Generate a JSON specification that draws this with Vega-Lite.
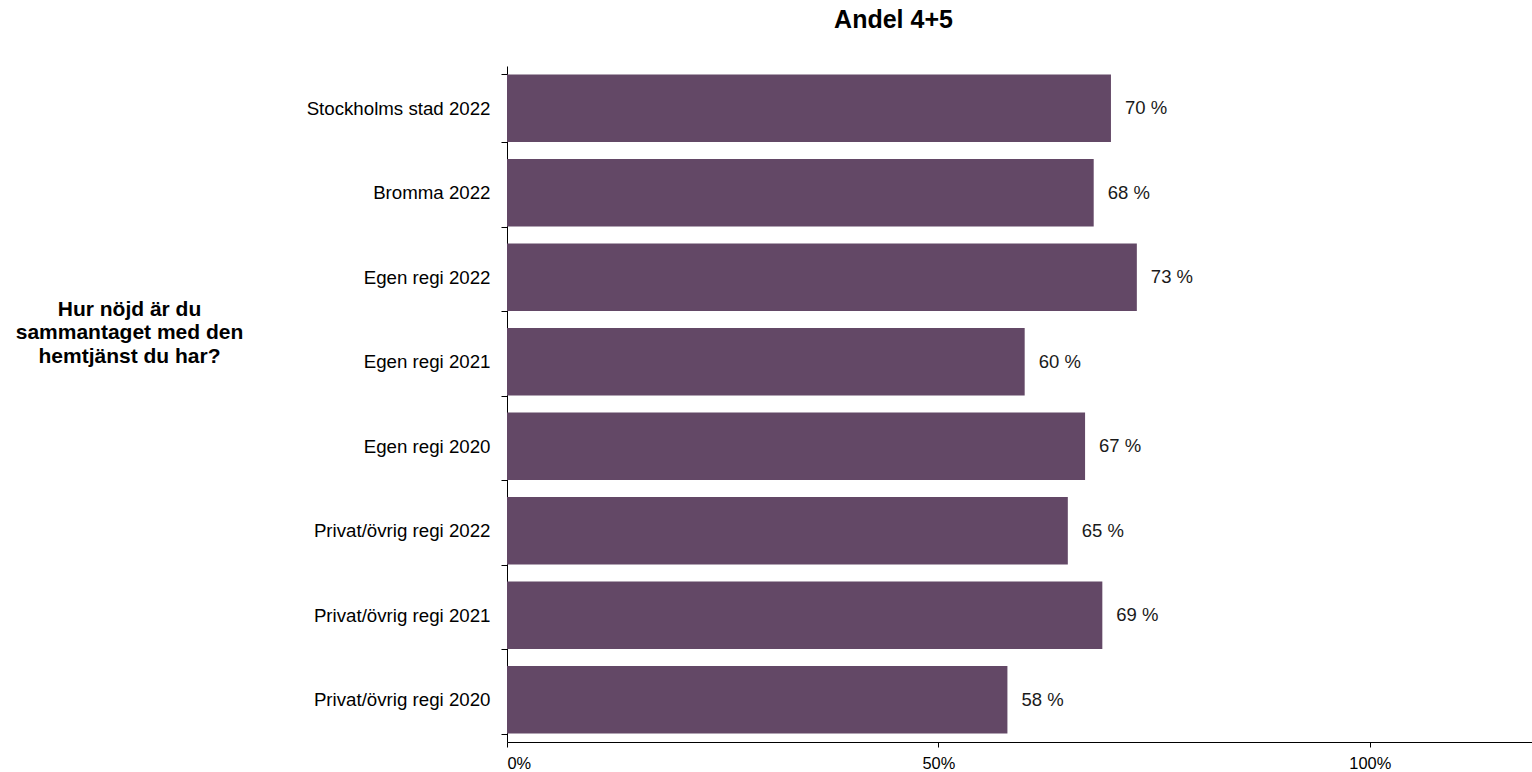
{
  "$schema": "https://vega.github.io/schema/vega-lite/v6.json",
  "autosize": {"type": "none"},
  "padding": {"left": 507, "top": 66, "right": 0, "bottom": 30},
  "width": 1025,
  "height": 676,
  "background": "white",
  "title": {
    "text": "Andel 4+5",
    "font": "Liberation Sans",
    "fontSize": 25,
    "fontWeight": "bold",
    "color": "#000000",
    "anchor": "middle",
    "dx": -126,
    "offset": 24
  },
  "data": {
    "values": [
      {"kategori": "Stockholms stad 2022", "andel": 70},
      {"kategori": "Bromma 2022", "andel": 68},
      {"kategori": "Egen regi 2022", "andel": 73},
      {"kategori": "Egen regi 2021", "andel": 60},
      {"kategori": "Egen regi 2020", "andel": 67},
      {"kategori": "Privat/övrig regi 2022", "andel": 65},
      {"kategori": "Privat/övrig regi 2021", "andel": 69},
      {"kategori": "Privat/övrig regi 2020", "andel": 58}
    ]
  },
  "encoding": {
    "y": {
      "field": "kategori",
      "type": "nominal",
      "sort": null,
      "scale": {"paddingInner": 0.2, "paddingOuter": 0.1},
      "axis": {
        "title": ["Hur nöjd är du", "sammantaget med den", "hemtjänst du har?"],
        "titleFont": "Liberation Sans",
        "titleFontSize": 21,
        "titleFontWeight": "bold",
        "titleColor": "#000000",
        "titleAngle": 0,
        "titleAlign": "center",
        "titleBaseline": "alphabetic",
        "titleLineHeight": 23.5,
        "titleX": -378,
        "titleY": 249,
        "labelFont": "Liberation Sans",
        "labelFontSize": 18.7,
        "labelColor": "#000000",
        "labelPadding": 11,
        "labelLimit": 400,
        "tickBand": "extent",
        "tickSize": 6,
        "tickColor": "#000000",
        "domainColor": "#000000",
        "grid": false
      }
    },
    "x": {
      "field": "andel",
      "type": "quantitative",
      "scale": {"domain": [0, 118.8], "nice": false},
      "axis": {
        "title": null,
        "values": [0, 50, 100],
        "labelExpr": "datum.value + '%'",
        "labelFont": "Liberation Sans",
        "labelFontSize": 16.4,
        "labelColor": "#000000",
        "labelPadding": 8,
        "tickSize": 5,
        "tickColor": "#000000",
        "domainColor": "#000000",
        "grid": false
      }
    }
  },
  "layer": [
    {"mark": {"type": "bar", "color": "#634866"}},
    {
      "mark": {
        "type": "text",
        "align": "left",
        "baseline": "middle",
        "dx": 14,
        "font": "Liberation Sans",
        "fontSize": 18.5,
        "color": "#1a1a1a"
      },
      "encoding": {"text": {"field": "label"}}
    }
  ],
  "transform": [{"calculate": "datum.andel + ' %'", "as": "label"}],
  "config": {"view": {"stroke": null}}
}
